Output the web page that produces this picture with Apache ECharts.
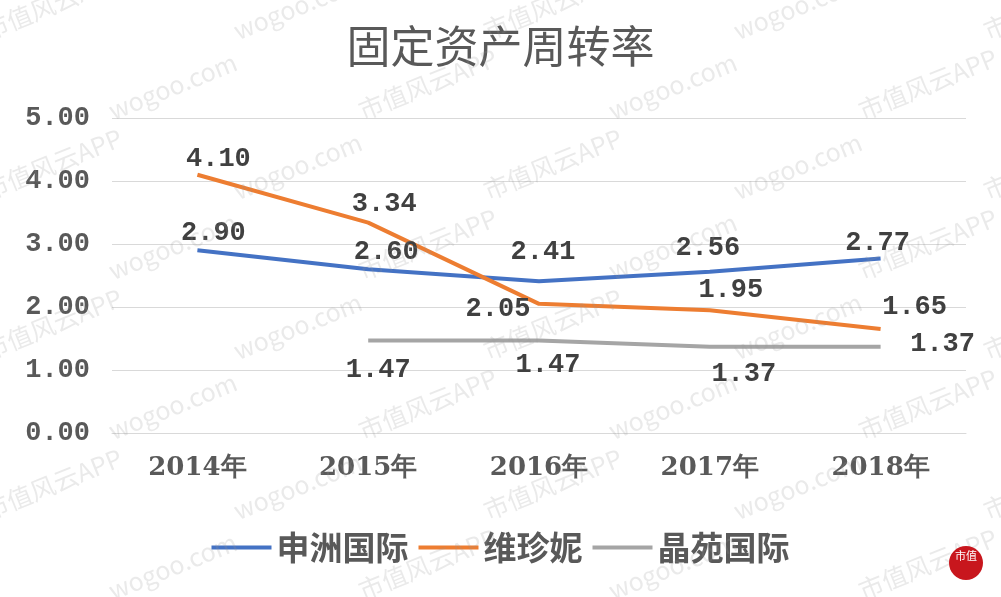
<!DOCTYPE html>
<html><head><meta charset="utf-8">
<script src="https://cdn.jsdelivr.net/npm/echarts@6/dist/echarts.min.js"></script>
<style>html,body{margin:0;padding:0;background:#fff}#c{width:1001px;height:597px}</style>
</head><body><div id="c"></div>
<script>
var categories = ['2014年','2015年','2016年','2017年','2018年'];
var shenzhou = [2.90, 2.60, 2.41, 2.56, 2.77];
var weizhenni = [4.10, 3.34, 2.05, 1.95, 1.65];
var jingyuan = [null, 1.47, 1.47, 1.37, 1.37];
var seriesNames = ['申洲国际','维珍妮','晶苑国际'];
var yTicks = [0, 1, 2, 3, 4, 5];

// label offsets (style only)
var offBlue = [[16,-17],[18,-17],[4,-29],[-2,-24],[-3,-15]];
var offOrange = [[21,-15],[16,-18],[-41,5],[21,-20],[34,-22]];
var offGray = [[0,0],[10,30],[9,25],[34,28],[62,-2]];

var numFont = 'Liberation Mono';
function mk(vals, offs){
  return vals.map(function(v,i){
    return {value: v, label: {offset: offs[i]}};
  });
}
function series(name, vals, offs, color){
  return {
    name: name, type: 'line', data: mk(vals, offs),
    symbol: 'circle', symbolSize: 0.1, showSymbol: true,
    lineStyle: {color: color, width: 4},
    itemStyle: {color: color},
    label: {show: true, position: 'inside', color: '#404040',
      fontFamily: numFont, fontWeight: 'bold', fontSize: 27,
      formatter: function(p){ return p.value == null ? '' : Number(p.value).toFixed(2); }},
    emphasis: {disabled: true}, animation: false
  };
}

// watermark
var wm = [];
var texts = ['市值风云APP','wogoo.com'];
for (var r = -2; r < 9; r++) {
  for (var c = -1; c < 6; c++) {
    var x = c * 250 + (r % 2 ? 125 : 0) - 20;
    var y = r * 80 + 20;
    wm.push({type: 'text', x: x, y: y, rotation: Math.PI * 22 / 180, silent: true, z: 100,
      style: {text: texts[(r + c + 20) % 2], fill: 'rgba(150,150,150,0.2)', font: '25px "Noto Sans CJK SC"'}});
  }
}
wm.push({type:'circle', shape:{cx:966, cy:563, r:17}, style:{fill:'#c8161d'}, z:101, silent:true});
wm.push({type:'text', x:966, y:556, style:{text:'市值', fill:'#fff', font:'11px "Noto Sans CJK SC"', align:'center', verticalAlign:'middle'}, z:102, silent:true});

var chart = echarts.init(document.getElementById('c'), null, {renderer: 'canvas'});
chart.setOption({
  animation: false,
  backgroundColor: '#fff',
  title: {text: '固定资产周转率', left: 'center', top: 19,
    textStyle: {fontFamily: 'Noto Sans CJK SC', fontSize: 44, fontWeight: 'normal', color: '#595959'}},
  legend: {data: seriesNames, bottom: 28, left: 'center', itemWidth: 60, itemHeight: 4, itemGap: 10,
    icon: 'rect',
    textStyle: {fontFamily: 'Noto Sans CJK SC', fontSize: 33, fontWeight: 'bold', color: '#595959'}},
  grid: {left: 112, right: 35, top: 118, bottom: 164, containLabel: false},
  xAxis: {type: 'category', data: categories, boundaryGap: true,
    axisLine: {show: true, lineStyle: {color: '#D9D9D9', width: 1}},
    axisTick: {show: false},
    axisLabel: {margin: 22, color: '#595959', fontFamily: 'DejaVu Serif', fontWeight: 'bold', fontSize: 26}},
  yAxis: {type: 'value', min: yTicks[0], max: yTicks[yTicks.length-1], interval: 1,
    axisLine: {show: false}, axisTick: {show: false},
    splitLine: {lineStyle: {color: '#D9D9D9', width: 1}},
    axisLabel: {margin: 22, color: '#595959', fontFamily: numFont, fontWeight: 'bold', fontSize: 27,
      formatter: function(v){ return v.toFixed(2); }}},
  series: [
    series(seriesNames[0], shenzhou, offBlue, '#4472C4'),
    series(seriesNames[1], weizhenni, offOrange, '#ED7D31'),
    series(seriesNames[2], jingyuan, offGray, '#A5A5A5')
  ],
  graphic: wm
});
</script></body></html>
